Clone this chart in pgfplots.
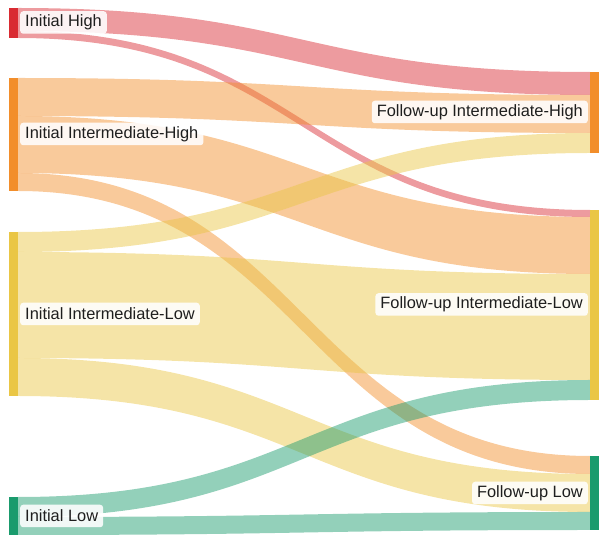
\documentclass[border=0pt]{standalone}
\usepackage{pgfplots}
\usepackage{pgfplotstable}
\pgfplotsset{compat=1.18}
\usepackage{fontspec}
\setmainfont{Liberation Sans}
\definecolor{c0}{HTML}{D92B32}
\definecolor{c1}{HTML}{F28E2B}
\definecolor{c2}{HTML}{EAC645}
\definecolor{c3}{HTML}{1A9B6D}
\definecolor{lbltext}{HTML}{1E1E1E}

% flows: source node, target node, value (link thickness)
\pgfplotstableread{
src tgt val
0 0 23
0 1 7
1 0 38
1 1 57
1 2 18
2 0 20
2 1 106
2 2 38
3 1 20
3 2 18
}\flows

% nodes: x position, top, height, colour index
\pgfplotstableread{
x top h col
9 8 30 0
9 78 113 1
9 232 164 2
9 497 38 3
590 72 81 1
590 210 190 2
590 456 74 3
}\nodetab

\newcommand\setv[2]{\expandafter\xdef\csname #1\endcsname{#2}}
\tikzset{lbl/.style={fill=white, fill opacity=0.88, text opacity=1,
    rounded corners=3bp, inner xsep=5bp, inner ysep=0pt,
    minimum height=22.5bp, text=lbltext,
    font=\fontsize{16.4bp}{18bp}\selectfont}}

\begin{document}
\begin{tikzpicture}
\begin{axis}[
  width=605bp, height=540bp, scale only axis,
  xmin=0, xmax=605, ymin=0, ymax=540,
  y dir=reverse, hide axis, clip=false,
]
% starting offsets of sources (left) and targets (right)
\setv{so0}{8}\setv{so1}{78}\setv{so2}{232}\setv{so3}{497}
\setv{to0}{72}\setv{to1}{210}\setv{to2}{456}
\path (axis cs:0,0) rectangle (axis cs:605,540);
\pgfplotsinvokeforeach{0,...,9}{
  \pgfplotstablegetelem{#1}{src}\of\flows \let\fs\pgfplotsretval
  \pgfplotstablegetelem{#1}{tgt}\of\flows \let\ft\pgfplotsretval
  \pgfplotstablegetelem{#1}{val}\of\flows \let\fv\pgfplotsretval
  \edef\ya{\csname so\fs\endcsname}
  \edef\yb{\csname to\ft\endcsname}
  \pgfmathsetmacro\yc{\ya+\fv}
  \pgfmathsetmacro\yd{\yb+\fv}
  \setv{so\fs}{\yc}\setv{to\ft}{\yd}
  \edef\cmd{\noexpand\fill[c\fs, fill opacity=0.47]
    (axis cs:18,\ya) .. controls (axis cs:304,\ya) and (axis cs:304,\yb) .. (axis cs:590,\yb)
    -- (axis cs:590,\yd) .. controls (axis cs:304,\yd) and (axis cs:304,\yc) .. (axis cs:18,\yc) -- cycle;}
  \cmd
}
\pgfplotsinvokeforeach{0,...,6}{
  \pgfplotstablegetelem{#1}{x}\of\nodetab \let\nx\pgfplotsretval
  \pgfplotstablegetelem{#1}{top}\of\nodetab \let\nt\pgfplotsretval
  \pgfplotstablegetelem{#1}{h}\of\nodetab \let\nh\pgfplotsretval
  \pgfplotstablegetelem{#1}{col}\of\nodetab \let\nc\pgfplotsretval
  \pgfmathsetmacro\nxx{\nx+9}
  \pgfmathsetmacro\nb{\nt+\nh}
  \edef\cmd{\noexpand\fill[c\nc] (axis cs:\nx,\nt) rectangle (axis cs:\nxx,\nb);}
  \cmd
}
\node[lbl, anchor=west] at (axis cs:20,22.5) {Initial High};
\node[lbl, anchor=west] at (axis cs:20,134) {Initial Intermediate-High};
\node[lbl, anchor=west] at (axis cs:20,314) {Initial Intermediate-Low};
\node[lbl, anchor=west] at (axis cs:20,516) {Initial Low};
\node[lbl, anchor=east] at (axis cs:588,112) {Follow-up Intermediate-High};
\node[lbl, anchor=east] at (axis cs:588,304.5) {Follow-up Intermediate-Low};
\node[lbl, anchor=east] at (axis cs:588,493) {Follow-up Low};
\end{axis}
\end{tikzpicture}
\end{document}
